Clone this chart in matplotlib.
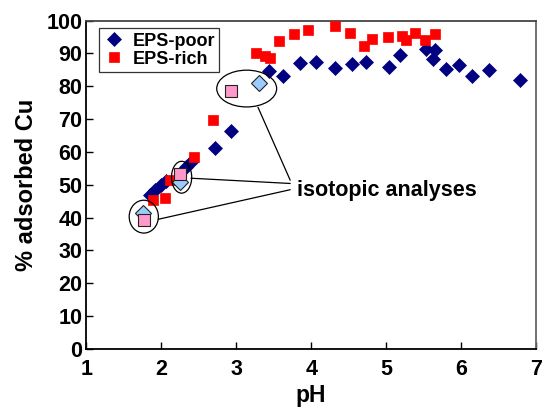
import matplotlib
matplotlib.use("Agg")
import matplotlib.pyplot as plt
from matplotlib.patches import Ellipse

plt.rcParams['font.family'] = ['Liberation Sans', 'DejaVu Sans']
plt.rcParams['font.weight'] = 'bold'

# EPS-poor (navy diamonds)
poor_ph = [1.85, 1.92, 2.00, 2.06, 2.33, 2.40, 2.71, 2.93, 3.44, 3.62, 3.85, 4.07,
           4.32, 4.54, 4.73, 5.04, 5.19, 5.54, 5.65, 5.63, 5.80, 5.97, 6.15, 6.37, 6.79]
poor_cu = [46.8, 48.5, 49.8, 51.2, 55.5, 57.0, 61.2, 66.5, 84.7, 83.0, 87.0, 87.3,
           85.6, 86.8, 87.5, 85.8, 89.6, 91.4, 91.0, 88.4, 85.3, 86.6, 83.0, 84.9, 81.8]

# EPS-rich (red squares)
rich_ph = [1.89, 2.05, 2.12, 2.43, 2.69, 3.27, 3.38, 3.45, 3.57, 3.77, 3.96, 4.32,
           4.52, 4.70, 4.81, 5.02, 5.21, 5.27, 5.39, 5.52, 5.65]
rich_cu = [45.4, 46.0, 51.6, 58.6, 69.8, 90.2, 89.2, 88.6, 93.8, 95.8, 97.0, 98.2,
           96.1, 92.2, 94.5, 94.9, 95.4, 94.0, 96.1, 94.2, 95.9]

# samples used for isotopic analyses
iso_poor_ph = [1.76, 2.25, 3.31]
iso_poor_cu = [41.5, 51.0, 81.0]
iso_rich_ph = [1.77, 2.25, 2.93]
iso_rich_cu = [39.2, 53.2, 78.5]

x_ticks = [1, 2, 3, 4, 5, 6, 7]
y_ticks = [0, 10, 20, 30, 40, 50, 60, 70, 80, 90, 100]

fig = plt.figure(figsize=(5.44, 4.09), dpi=100)
ax = fig.add_axes([0.159, 0.1467, 0.826, 0.803])

ax.plot(poor_ph, poor_cu, linestyle='none', marker='D', ms=7.6,
        color='#000080', mec='#000080', mew=0.5, label='EPS-poor', zorder=3)
ax.plot(rich_ph, rich_cu, linestyle='none', marker='s', ms=7.6,
        color='#ff0000', mec='#ff0000', mew=0.5, label='EPS-rich', zorder=4)
ax.plot(iso_poor_ph, iso_poor_cu, linestyle='none', marker='D', ms=8.6,
        color='#99ccff', mec='#222222', mew=0.8, zorder=5)
ax.plot(iso_rich_ph, iso_rich_cu, linestyle='none', marker='s', ms=8.6,
        color='#ff99cc', mec='#222222', mew=0.8, zorder=6)

# ellipses around the isotopic samples
for (cx, cy, w, h) in [(1.765, 40.3, 0.39, 10.0), (2.27, 52.3, 0.27, 9.7), (3.139, 79.3, 0.80, 11.2)]:
    ax.add_patch(Ellipse((cx, cy), w, h, fill=False, ec='black', lw=0.9, zorder=7))

# annotation
ax.text(3.81, 48.3, 'isotopic analyses', fontsize=15.5, fontweight='bold',
        ha='left', va='center', zorder=8)
for start, end in [((3.72, 51.4), (3.29, 73.6)),
                   ((3.72, 50.4), (2.395, 52.0)),
                   ((3.72, 48.5), (1.959, 39.5))]:
    ax.annotate('', xy=end, xytext=start,
                arrowprops=dict(arrowstyle='-', lw=0.9, color='black',
                                shrinkA=0, shrinkB=0), zorder=7)

ax.set_xlim(1, 7)
ax.set_ylim(0, 100)
ax.set_xticks(x_ticks)
ax.set_yticks(y_ticks)
ax.tick_params(axis='both', direction='in', length=5, width=1, labelsize=15.5)
ax.tick_params(axis='x', pad=7)
ax.tick_params(axis='y', pad=3)
for lab in ax.get_xticklabels() + ax.get_yticklabels():
    lab.set_fontweight('bold')

ax.set_xlabel('pH', fontsize=16.5, fontweight='bold', labelpad=3)
ax.set_ylabel('% adsorbed Cu', fontsize=17, fontweight='bold', labelpad=6)

for side in ['left', 'bottom']:
    ax.spines[side].set_color('black')
    ax.spines[side].set_linewidth(1.3)
ax.spines['top'].set_color('#444444')
ax.spines['right'].set_color('#666666')
ax.spines['top'].set_linewidth(1.3)
ax.spines['right'].set_linewidth(1.3)

leg = ax.legend(loc='upper left', bbox_to_anchor=(0.028, 0.977), borderaxespad=0,
                frameon=True, fancybox=False, edgecolor='black',
                handlelength=1.2, handletextpad=0.4, borderpad=0.25, labelspacing=0.05,
                prop={'weight': 'bold', 'size': 13})
leg.get_frame().set_linewidth(0.9)

fig.savefig('out.png', dpi=100)
